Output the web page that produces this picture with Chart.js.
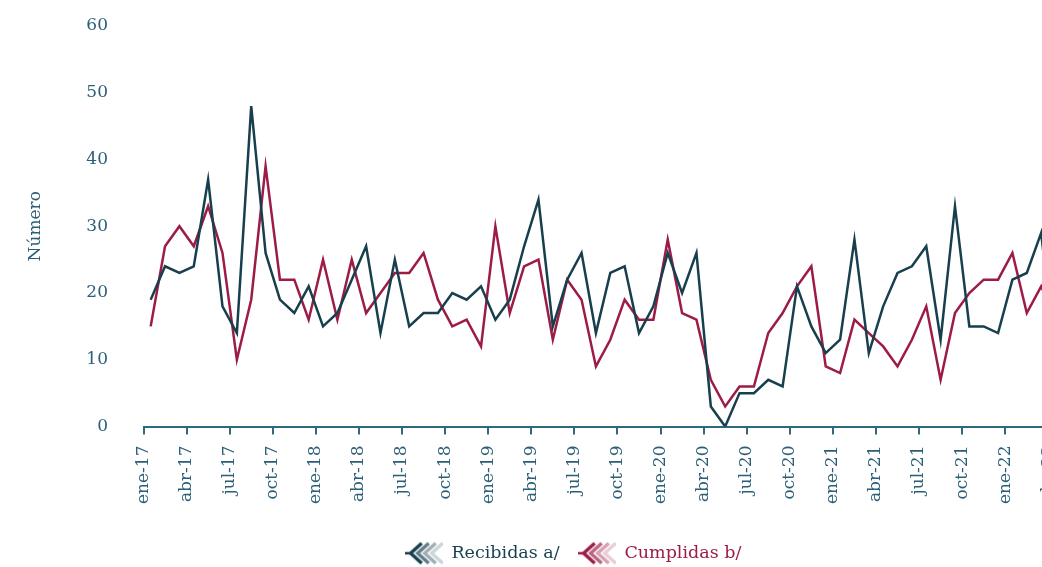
<!DOCTYPE html>
<html>
<head>
<meta charset="utf-8">
<script src="https://cdn.jsdelivr.net/npm/chart.js@4.4.1/dist/chart.umd.min.js"></script>
<style>
	html, body { margin: 0; padding: 0; background: #fff; overflow: hidden; }
	#wrap { position: absolute; left: 0; top: 0; width: 1146px; height: 572px; }
</style>
</head>
<body>
<div id="wrap"><canvas id="chart"></canvas></div>
<script>
// etiquetas trimestrales del eje x
const tickLabels = [
	"ene-17", "abr-17", "jul-17", "oct-17",
	"ene-18", "abr-18", "jul-18", "oct-18",
	"ene-19", "abr-19", "jul-19", "oct-19",
	"ene-20", "abr-20", "jul-20", "oct-20",
	"ene-21", "abr-21", "jul-21", "oct-21",
	"ene-22", "abr-22",
];

// valores mensuales desde ene-17
const recibidas = [
	19, 24, 23, 24, 37, 18, 14, 48, 26, 19, 17, 21,
	15, 17, 22, 27, 14, 25, 15, 17, 17, 20, 19, 21,
	16, 19, 27, 34, 15, 22, 26, 14, 23, 24, 14, 18,
	26, 20, 26, 3, 0, 5, 5, 7, 6, 21, 15, 11,
	13, 28, 11, 18, 23, 24, 27, 13, 33, 15, 15, 14,
	22, 23, 29, 10,
];
const cumplidas = [
	15, 27, 30, 27, 33, 26, 10, 19, 39, 22, 22, 16,
	25, 16, 25, 17, 20, 23, 23, 26, 19, 15, 16, 12,
	30, 17, 24, 25, 13, 22, 19, 9, 13, 19, 16, 16,
	28, 17, 16, 7, 3, 6, 6, 14, 17, 21, 24, 9,
	8, 16, 14, 12, 9, 13, 18, 7, 17, 20, 22, 22,
	26, 17, 21, 16,
];

const seriesNames = ["Recibidas a/", "Cumplidas b/"];
const seriesColors = ["#173f4e", "#9c1c46"];

const textColor = "#2b5f77";
const axisColor = "#30687f";

Chart.defaults.font.family = "'DejaVu Serif', serif";
Chart.defaults.font.size = 17;
Chart.defaults.color = textColor;

// icono de la leyenda: flechas que se desvanecen
function makeMarker(color) {
	const c = document.createElement("canvas");
	c.width = 38;
	c.height = 24;
	const ctx = c.getContext("2d");
	const alphas = [0.22, 0.42, 0.68, 1];
	ctx.lineWidth = 3.4;
	ctx.lineJoin = "miter";
	for (let k = 3; k >= 0; k--) {
		const x0 = 6 + k * 7;
		ctx.globalAlpha = alphas[3 - k];
		ctx.strokeStyle = color;
		ctx.beginPath();
		ctx.moveTo(x0 + 11, 2);
		ctx.lineTo(x0, 12);
		ctx.lineTo(x0 + 11, 22);
		ctx.stroke();
	}
	ctx.globalAlpha = 1;
	ctx.lineWidth = 2.5;
	ctx.strokeStyle = color;
	ctx.beginPath();
	ctx.moveTo(0, 12);
	ctx.lineTo(7, 12);
	ctx.stroke();
	return c;
}

const toPoints = (arr) => arr.map((v, i) => ({ x: i + 0.5, y: v }));

const ctx = document.getElementById("chart").getContext("2d");
new Chart(ctx, {
	type: "line",
	data: {
		datasets: [
			{
				label: seriesNames[0],
				data: toPoints(recibidas),
				borderColor: seriesColors[0],
				backgroundColor: seriesColors[0],
				borderWidth: 2.5,
				pointRadius: 0,
				tension: 0,
			},
			{
				label: seriesNames[1],
				data: toPoints(cumplidas),
				borderColor: seriesColors[1],
				backgroundColor: seriesColors[1],
				borderWidth: 2.5,
				pointRadius: 0,
				tension: 0,
			},
		],
	},
	options: {
		responsive: true,
		maintainAspectRatio: false,
		animation: false,
		layout: { padding: { top: 26, right: 0, bottom: 0, left: 0 } },
		plugins: {
			tooltip: { enabled: false },
			legend: {
				position: "bottom",
				labels: {
					usePointStyle: true,
					pointStyleWidth: 38,
					padding: 18,
					font: { size: 17.5 },
					generateLabels: (chart) =>
						chart.data.datasets.map((ds, i) => ({
							text: ds.label,
							fillStyle: seriesColors[i],
							strokeStyle: seriesColors[i],
							fontColor: seriesColors[i],
							lineWidth: 0,
							hidden: false,
							datasetIndex: i,
							pointStyle: makeMarker(seriesColors[i]),
							rotation: 0,
						})),
				},
			},
		},
		scales: {
			x: {
				type: "linear",
				min: 0,
				max: 69.8,
				afterBuildTicks: (scale) => {
					scale.ticks = tickLabels.map((_, k) => ({ value: k * 3 }));
				},
				afterFit: (scale) => {
					scale.height = 100;
				},
				ticks: {
					autoSkip: false,
					minRotation: 90,
					maxRotation: 90,
					padding: 11,
					color: textColor,
					callback: (value) => tickLabels[value / 3] ?? "",
				},
				grid: {
					drawOnChartArea: false,
					drawTicks: true,
					tickLength: 8,
					color: axisColor,
					lineWidth: 2,
				},
				border: { display: true, color: axisColor, width: 2 },
			},
			y: {
				min: 0,
				max: 60,
				afterFit: (scale) => {
					scale.width = 143.5;
				},
				ticks: { stepSize: 10, padding: 0.5, color: textColor },
				// marcas invisibles para separar las etiquetas del área
				grid: {
					display: true,
					drawOnChartArea: false,
					drawTicks: true,
					tickLength: 35,
					color: "rgba(0,0,0,0)",
				},
				border: { display: false },
				title: {
					display: true,
					text: "Número",
					color: textColor,
					font: { size: 17 },
					padding: { top: 25, bottom: 0 },
				},
			},
		},
	},
});
</script>
</body>
</html>
